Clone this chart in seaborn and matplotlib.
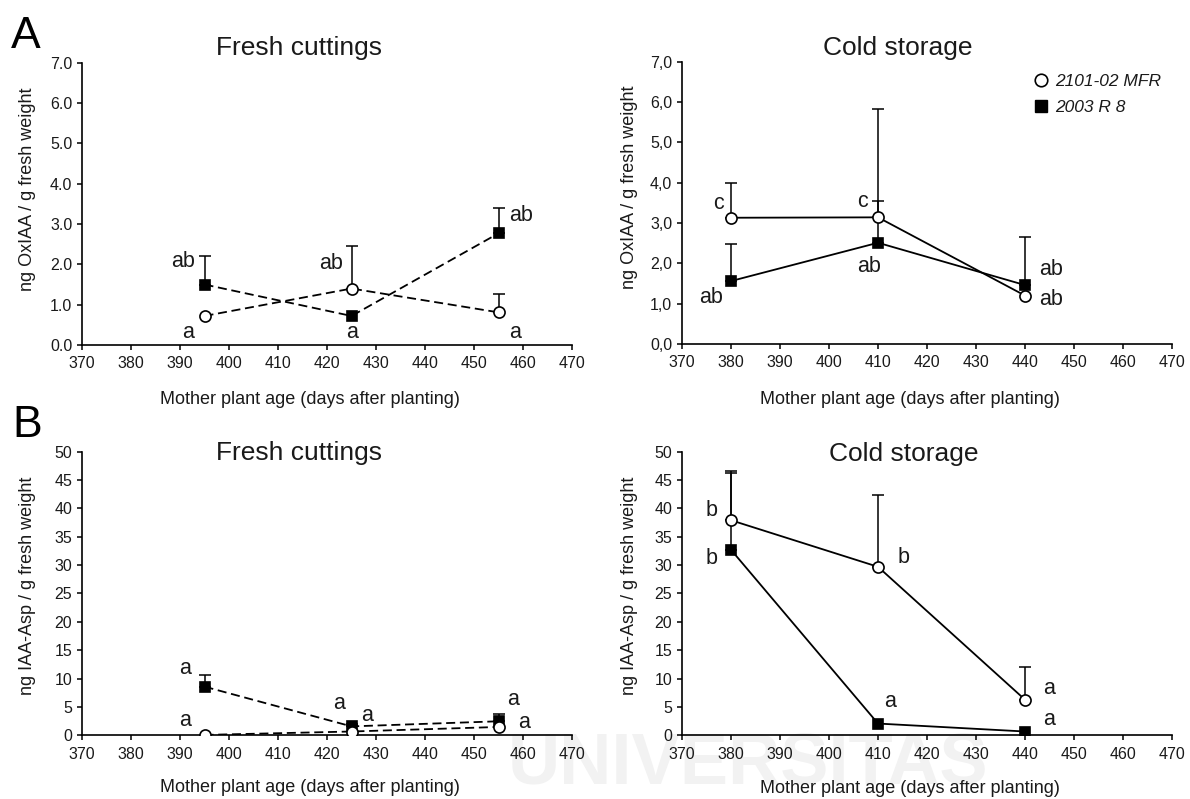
import numpy as np
import pandas as pd
import matplotlib
matplotlib.use("Agg")
import matplotlib.pyplot as plt
from matplotlib.lines import Line2D
from matplotlib.ticker import FuncFormatter, MultipleLocator
import seaborn as sns

# ---------------- data ----------------
genotypes = ["2101-02 MFR", "2003 R 8"]
days_fresh = [395, 425, 455]
days_cold = [380, 410, 440]

# OxIAA (ng / g fresh weight)
oxiaa_fresh_mfr = [0.72, 1.40, 0.81]
oxiaa_fresh_mfr_err = [0.0, 1.05, 0.45]
oxiaa_fresh_r8 = [1.50, 0.72, 2.77]
oxiaa_fresh_r8_err = [0.70, 0.0, 0.62]

oxiaa_cold_mfr = [3.13, 3.14, 1.20]
oxiaa_cold_mfr_err = [0.87, 2.69, 0.0]
oxiaa_cold_r8 = [1.56, 2.51, 1.46]
oxiaa_cold_r8_err = [0.91, 1.04, 1.20]

# IAA-Asp (ng / g fresh weight)
asp_fresh_mfr = [0.1, 0.7, 1.5]
asp_fresh_mfr_err = [0.0, 0.0, 0.0]
asp_fresh_r8 = [8.6, 1.6, 2.5]
asp_fresh_r8_err = [2.1, 0.5, 1.3]

asp_cold_mfr = [37.9, 29.7, 6.3]
asp_cold_mfr_err = [8.3, 12.6, 5.8]
asp_cold_r8 = [32.7, 2.1, 0.7]
asp_cold_r8_err = [13.9, 0.0, 0.0]

# significance letters (text, x, y)
letters_oxiaa_fresh = [("ab", 390.6, 2.07), ("a", 391.7, 0.31), ("ab", 420.8, 2.03),
                       ("a", 425.1, 0.31), ("ab", 459.5, 3.2), ("a", 458.4, 0.31)]
letters_oxiaa_cold = [("c", 377.4, 3.49), ("c", 406.8, 3.53), ("ab", 375.9, 1.15),
                      ("ab", 408.2, 1.92), ("ab", 445.3, 1.85), ("ab", 445.3, 1.11)]
letters_asp_fresh = [("a", 391.0, 11.8), ("a", 391.0, 2.7), ("a", 422.5, 5.7),
                     ("a", 428.2, 3.6), ("a", 457.9, 6.25), ("a", 460.2, 2.3)]
letters_asp_cold = [("b", 376.0, 39.7), ("b", 376.0, 31.2), ("b", 415.2, 31.3),
                    ("a", 412.5, 5.9), ("a", 445.0, 8.35), ("a", 445.0, 2.9)]

# ---------------- style ----------------
sns.set_style("ticks")
plt.rcParams["font.family"] = ["Liberation Sans", "DejaVu Sans"]
TXT = "#1a1a1a"

fig = plt.figure(figsize=(11.9, 7.99), dpi=100)


def fmt_dot(v, _):
    return f"{v:.1f}"


def fmt_comma(v, _):
    return f"{v:.1f}".replace(".", ",")


def fmt_int(v, _):
    return f"{v:.0f}"


panels = [
    dict(rect=[0.0689, 0.5682, 0.4118, 0.3533], days=days_fresh,
         mfr=oxiaa_fresh_mfr, mfr_err=oxiaa_fresh_mfr_err,
         r8=oxiaa_fresh_r8, r8_err=oxiaa_fresh_r8_err, dashed=True,
         ymax=7, ystep=1, fmt=fmt_dot, title="Fresh cuttings", tpos=(0.443, 1.027),
         ylabel="ng OxIAA / g fresh weight", ylpos=(-0.093, 0.553),
         xlpos=(0.465, -0.209), letters=letters_oxiaa_fresh),
    dict(rect=[0.5731, 0.5695, 0.4118, 0.3533], days=days_cold,
         mfr=oxiaa_cold_mfr, mfr_err=oxiaa_cold_mfr_err,
         r8=oxiaa_cold_r8, r8_err=oxiaa_cold_r8_err, dashed=False,
         ymax=7, ystep=1, fmt=fmt_comma, title="Cold storage", tpos=(0.441, 1.024),
         ylabel="ng OxIAA / g fresh weight", ylpos=(-0.090, 0.554),
         xlpos=(0.4645, -0.2125), letters=letters_oxiaa_cold),
    dict(rect=[0.0689, 0.0795, 0.4118, 0.3554], days=days_fresh,
         mfr=asp_fresh_mfr, mfr_err=asp_fresh_mfr_err,
         r8=asp_fresh_r8, r8_err=asp_fresh_r8_err, dashed=True,
         ymax=50, ystep=5, fmt=fmt_int, title="Fresh cuttings", tpos=(0.442, 0.970),
         ylabel="ng IAA-Asp / g fresh weight", ylpos=(-0.093, 0.526),
         xlpos=(0.465, -0.198), letters=letters_asp_fresh),
    dict(rect=[0.5731, 0.0795, 0.4118, 0.3554], days=days_cold,
         mfr=asp_cold_mfr, mfr_err=asp_cold_mfr_err,
         r8=asp_cold_r8, r8_err=asp_cold_r8_err, dashed=False,
         ymax=50, ystep=5, fmt=fmt_int, title="Cold storage", tpos=(0.453, 0.968),
         ylabel="ng IAA-Asp / g fresh weight", ylpos=(-0.090, 0.526),
         xlpos=(0.4645, -0.203), letters=letters_asp_cold),
]

styles = {
    "2101-02 MFR": dict(marker="o", markersize=8, markerfacecolor="white"),
    "2003 R 8": dict(marker="s", markersize=7.5, markerfacecolor="black"),
}

axes = []
for p in panels:
    ax = fig.add_axes(p["rect"])
    ax.set_facecolor("none")
    axes.append(ax)
    ls = (0, (5, 2.6)) if p["dashed"] else "-"
    df = pd.DataFrame({
        "day": p["days"] * 2,
        "value": p["r8"] + p["mfr"],
        "err": p["r8_err"] + p["mfr_err"],
        "genotype": [genotypes[1]] * 3 + [genotypes[0]] * 3,
    })
    # draw 2003 R 8 first, then MFR on top
    for g in [genotypes[1], genotypes[0]]:
        sub = df[df["genotype"] == g]
        m = sub["err"] > 0
        ax.errorbar(sub["day"][m], sub["value"][m],
                    yerr=[np.zeros(m.sum()), sub["err"][m]],
                    fmt="none", ecolor="black", elinewidth=1.1,
                    capsize=4, capthick=1.1, zorder=2)
        sns.lineplot(data=sub, x="day", y="value", ax=ax, color="black",
                     linewidth=1.3, linestyle=ls, markeredgecolor="black",
                     markeredgewidth=1.2, legend=False, zorder=3,
                     errorbar=None, **styles[g])

    ax.set_xlim(370, 470)
    ax.set_ylim(0, p["ymax"])
    ax.xaxis.set_major_locator(MultipleLocator(10))
    ax.yaxis.set_major_locator(MultipleLocator(p["ystep"]))
    ax.yaxis.set_major_formatter(FuncFormatter(p["fmt"]))
    sns.despine(ax=ax)
    for s in ["left", "bottom"]:
        ax.spines[s].set_linewidth(1.2)
        ax.spines[s].set_color("black")
    ax.tick_params(axis="both", direction="out", length=3.5, width=1.1,
                   color="black", labelsize=11.5, labelcolor=TXT)
    ax.tick_params(axis="x", pad=4.5)
    ax.tick_params(axis="y", pad=3.5)

    ax.set_xlabel("Mother plant age (days after planting)", fontsize=13,
                  color=TXT, va="baseline")
    ax.xaxis.set_label_coords(*p["xlpos"])
    ax.set_ylabel(p["ylabel"], fontsize=13, color=TXT)
    ax.yaxis.set_label_coords(*p["ylpos"])

    ax.text(p["tpos"][0], p["tpos"][1], p["title"], transform=ax.transAxes,
            ha="center", va="baseline", fontsize=19, color=TXT)
    for t, x, y in p["letters"]:
        ax.text(x, y, t, ha="center", va="center", fontsize=15.5, color=TXT,
                zorder=4)

# legend in the cold-storage OxIAA panel
handles = [
    Line2D([], [], linestyle="none", marker="o", markersize=9,
           markerfacecolor="white", markeredgecolor="black", markeredgewidth=1.2),
    Line2D([], [], linestyle="none", marker="s", markersize=8.5,
           markerfacecolor="black", markeredgecolor="black"),
]
leg = axes[1].legend(handles, genotypes, loc="upper left",
                     bbox_to_anchor=(1034 / 1190, 1 - 74 / 799),
                     bbox_transform=fig.transFigure, frameon=False,
                     borderpad=0, borderaxespad=0, handlelength=0.8,
                     handletextpad=0.4, labelspacing=0.62,
                     prop=dict(size=12.5, style="italic"))
for t in leg.get_texts():
    t.set_color(TXT)

# panel letters
fig.text(11 / 1190, 1 - 48 / 799, "A", fontsize=32, va="baseline", ha="left", color="black")
fig.text(12 / 1190, 1 - 437 / 799, "B", fontsize=32, va="baseline", ha="left", color="black")

# faint watermark
fig.text(748 / 1190, 1 - 783 / 799, "UNIVERSITAS", fontsize=52, fontweight="bold",
         color="#f2f2f2", ha="center", va="baseline", zorder=-5)

fig.savefig("out.png", dpi=100)
